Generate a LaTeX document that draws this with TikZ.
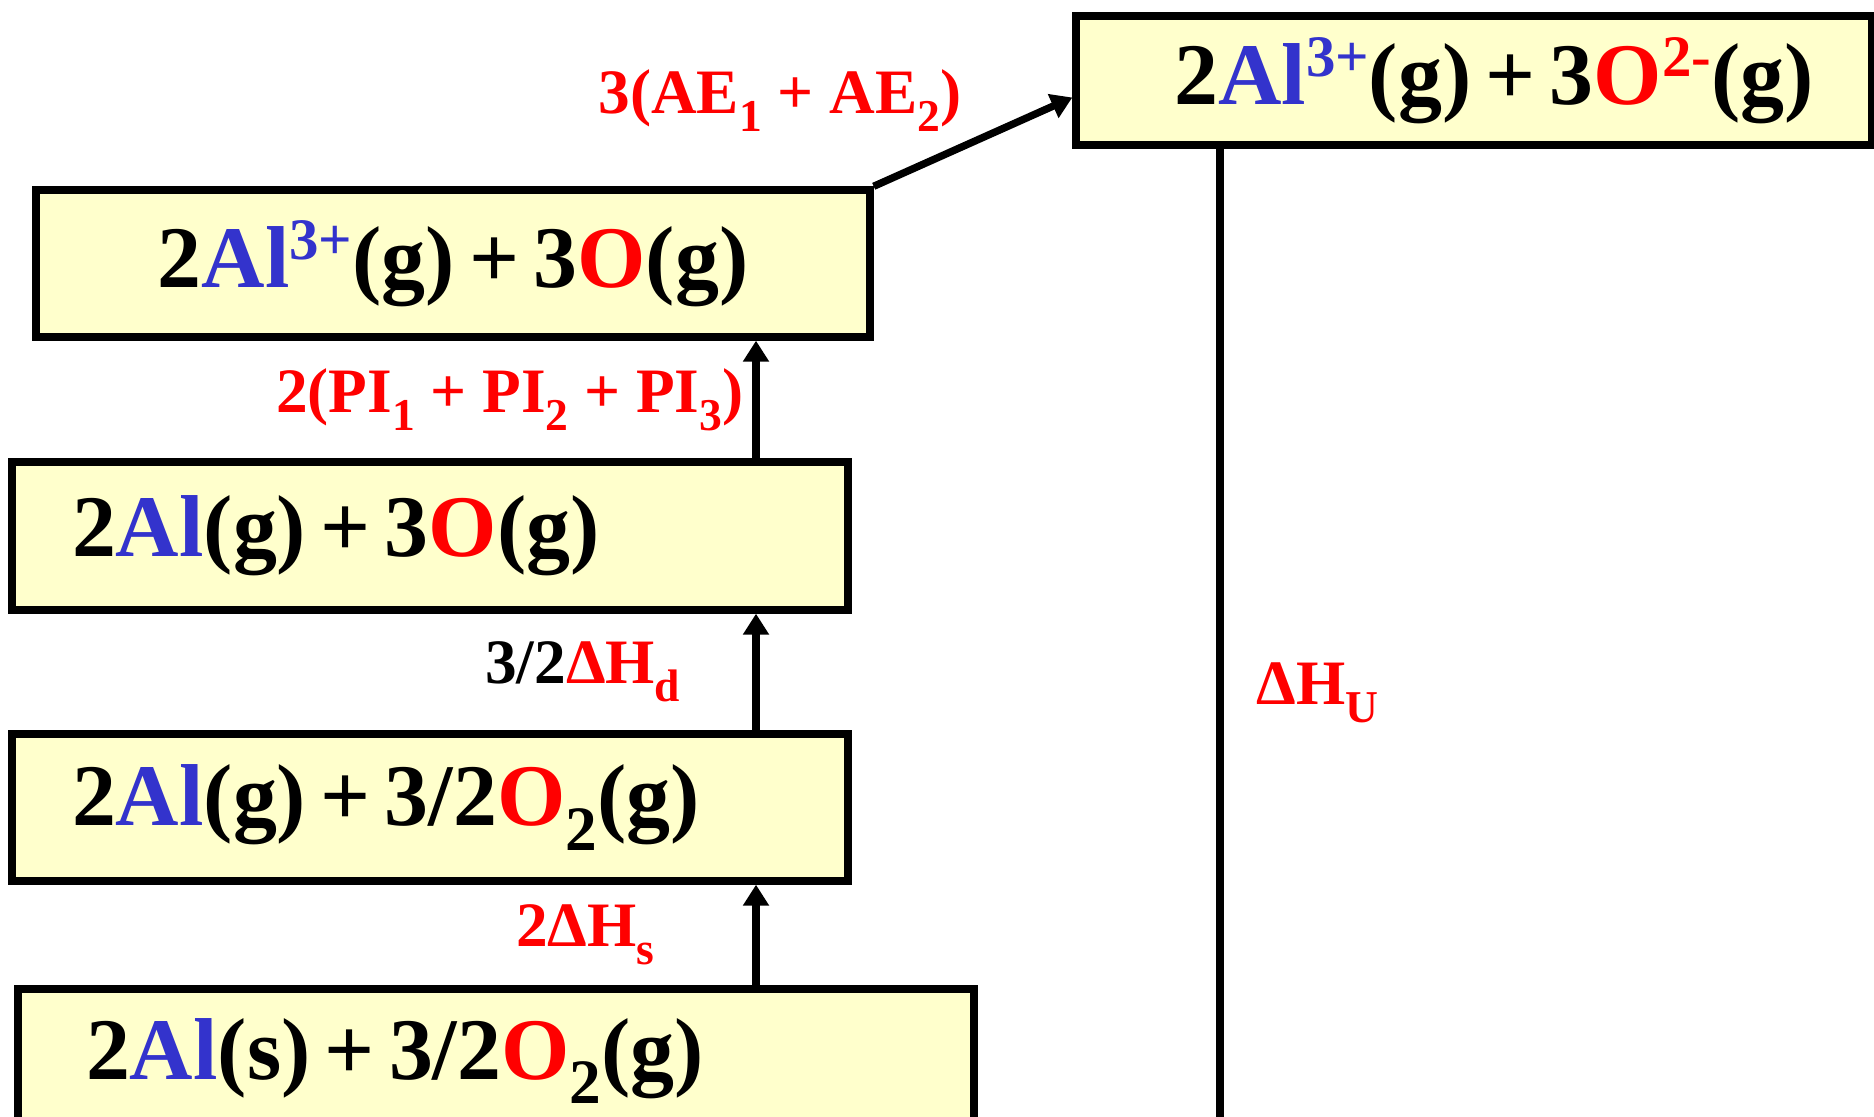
\documentclass[tikz,border=0pt]{standalone}
\usepackage{graphicx}
\usepackage{fontspec}
\setmainfont{Liberation Serif}
\newfontfamily\boxfam{Liberation Serif}[WordSpace=0.65]
\usetikzlibrary{arrows.meta,positioning}

\definecolor{alblue}{RGB}{51,51,204}
\definecolor{boxfill}{RGB}{255,255,204}
\newcommand{\alum}{{\color{alblue}Al}}
\newcommand{\oxy}{{\color{red}O}}
\newcommand{\up}[1]{\raisebox{0.32em}{\scalebox{0.67}{#1}}}
\newcommand{\dn}[1]{\raisebox{-0.28em}{\scalebox{0.72}{#1}}}

\begin{document}
\begin{tikzpicture}[>={Triangle[length=0.21cm,width=0.25cm]},
  box/.style={draw, line width=2.1pt, fill=boxfill, inner ysep=0pt,
    font=\boxfam\fontsize{25}{30}\selectfont\bfseries},
  lbl/.style={text=red, inner sep=0pt, font=\fontsize{18}{22}\selectfont\bfseries},
  link/.style={line width=2.1pt}]

  \useasboundingbox (0,0) rectangle (18.74,11.16);
  \clip (0,0) rectangle (18.74,11.16);

  % Energy levels
  \node[box, minimum height=1.44cm, inner xsep=0.68cm] (solid) at (4.96,0.55) {\makebox[8.20cm][l]{2\alum(s) + 3/2\oxy\dn{2}(g)}};
  \node[box, minimum height=1.47cm, inner xsep=0.60cm] (gasmol) at (4.30,3.085) {\makebox[7.16cm][l]{2\alum(g) + 3/2\oxy\dn{2}(g)}};
  \node[box, minimum height=1.48cm, inner xsep=0.60cm] (atoms) at (4.30,5.80) {\makebox[7.16cm][l]{2\alum(g) + 3\oxy(g)}};
  \node[box, minimum width=8.34cm, minimum height=1.47cm] (cations) at (4.53,8.525) {2\alum\up{\color{alblue}3+}(g) + 3\oxy(g)};
  \node[box, minimum width=7.96cm, minimum height=1.29cm] (ions) at (14.74,10.355) {\hspace*{0.4cm}2\alum\up{\color{alblue}3+}(g) + 3\oxy\up{\color{red}2-}(g)};

  % Steps of the cycle
  \coordinate (stem) at (7.56,0);
  \draw[link,->] (stem |- solid.north) -- (stem |- gasmol.south)
    node[lbl, midway, left=0.98cm] (sub) {2ΔH\dn{s}};
  \draw[link,->] (stem |- gasmol.north) -- (stem |- atoms.south)
    node[lbl, midway, left=0.72cm] (diss) {{\color{black}3/2}ΔH\dn{d}};
  \draw[link,->] (stem |- atoms.north) -- (stem |- cations.south)
    node[lbl, midway, left=0.09cm] (ion) {2(PI\dn{1} + PI\dn{2} + PI\dn{3})};
  \draw[link,->] (cations.north east) -- ([yshift=-0.17cm]ions.west)
    node[lbl, midway, above left=0.07cm and 0.08cm] (aff) {3(AE\dn{1} + AE\dn{2})};

  % Lattice energy
  \coordinate (hu) at (12.20,-0.3);
  \draw[link] (hu |- ions.south) -- (hu);
  \node[lbl, anchor=west] (latt) at (12.56,4.23) {ΔH\dn{U}};
\end{tikzpicture}
\end{document}
